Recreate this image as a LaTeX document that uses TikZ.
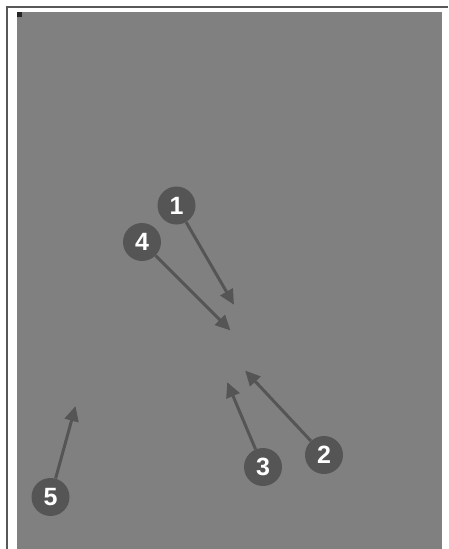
\documentclass[tikz,border=0pt]{standalone}
\usepackage{fontspec}
\setmainfont{Liberation Sans}
\usetikzlibrary{arrows.meta}
\definecolor{panelgray}{HTML}{808080}
\definecolor{markgray}{HTML}{555555}
\definecolor{framegray}{HTML}{585858}
\tikzset{
  marker/.style={circle,fill=markgray,text=white,minimum size=38pt,inner sep=0pt,font=\fontsize{25}{25}\selectfont\bfseries},
  pointer/.style={draw=markgray,line width=3pt,-{Triangle[length=15pt,width=14pt]},shorten >=-2pt}
}
\begin{document}
\begin{tikzpicture}[x=1pt,y=-1pt]
\useasboundingbox (0,0) rectangle (448,549);

\fill[panelgray] (17,12) rectangle (442,549);
\draw[framegray,line width=2.5pt] (7,549) -- (7,7) -- (448,7);
\fill[black!85] (17,12) rectangle (22,17);

\node[marker] (m1) at (176.5,205.5) {1};
\node[marker] (m2) at (324,455) {2};
\node[marker] (m3) at (263,467) {3};
\node[marker] (m4) at (142,242) {4};
\node[marker] (m5) at (50.5,497) {5};

\coordinate (t1) at (233,303);
\coordinate (t2) at (246.5,372);
\coordinate (t3) at (228,384);
\coordinate (t4) at (229,329);
\coordinate (t5) at (75,408);

\draw[pointer] (m1) -- (t1);
\draw[pointer] (m2) -- (t2);
\draw[pointer] (m3) -- (t3);
\draw[pointer] (m4) -- (t4);
\draw[pointer] (m5) -- (t5);
\end{tikzpicture}
\end{document}
